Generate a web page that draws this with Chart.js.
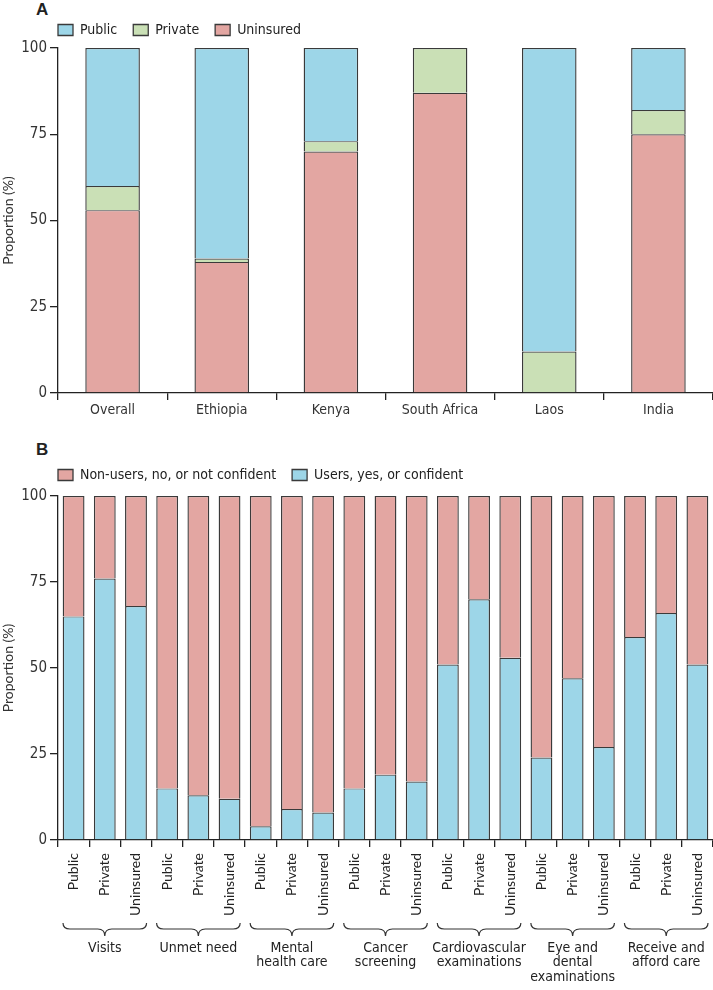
<!DOCTYPE html>
<html>
<head>
<meta charset="utf-8">
<script src="https://cdn.jsdelivr.net/npm/chart.js@4.4.1/dist/chart.umd.min.js"></script>
<style>
body { margin: 0; background: #fff; }
#wrap { position: relative; width: 713px; height: 990px; }
.panel-label { position: absolute; left: 36px; font: bold 17px "Liberation Sans", Arial, sans-serif; color: #222; }
#boxA { position: absolute; left: 0; top: 0; width: 713px; height: 430px; }
#boxB { position: absolute; left: 0; top: 430px; width: 713px; height: 560px; }
</style>
</head>
<body>
<div id="wrap">
  <div class="panel-label" style="top:0px">A</div>
  <div class="panel-label" style="top:440px">B</div>
  <div id="boxA"><canvas id="chartA"></canvas></div>
  <div id="boxB"><canvas id="chartB"></canvas></div>
</div>
<script>
// panel A: insurance type by country (%)
var countries = ['Overall', 'Ethiopia', 'Kenya', 'South Africa', 'Laos', 'India'];
var publicA = [40, 61, 27, 0, 88, 18];
var privateA = [7, 1, 3, 13, 12, 7];
var uninsuredA = [53, 38, 70, 87, 0, 75];

// panel B: outcome by insurance type (%)
var insuranceLabels = [
    'Public', 'Private', 'Uninsured', 'Public', 'Private', 'Uninsured',
    'Public', 'Private', 'Uninsured', 'Public', 'Private', 'Uninsured',
    'Public', 'Private', 'Uninsured', 'Public', 'Private', 'Uninsured',
    'Public', 'Private', 'Uninsured'
];
var groupNames = [
    ['Visits'], ['Unmet need'], ['Mental', 'health care'], ['Cancer', 'screening'],
    ['Cardiovascular', 'examinations'], ['Eye and', 'dental', 'examinations'],
    ['Receive and', 'afford care']
];
var usersB = [65, 76, 68, 15, 13, 12, 4, 9, 8, 15, 19, 17, 51, 70, 53, 24, 47, 27, 59, 66, 51];
var nonUsersB = [35, 24, 32, 85, 87, 88, 96, 91, 92, 85, 81, 83, 49, 30, 47, 76, 53, 73, 41, 34, 49];

var yTicks = [0, 25, 50, 75, 100];

var BLUE = '#9dd6e8';
var GREEN = '#cae0b6';
var PINK = '#e3a6a2';
var EDGE = '#3a3a3a';
var AXIS = '#222';

var narrow = '"DejaVu Sans Condensed", "Liberation Sans Narrow", sans-serif';
var humanist = 'Lato, "Open Sans", sans-serif';

// bar segment border: no bottom so joins stay thin
var segBorder = { top: 1.2, left: 1.4, right: 1.4, bottom: 0 };

function barSet(label, data, color) {
    return {
        label: label,
        data: data,
        backgroundColor: color,
        borderColor: EDGE,
        borderWidth: segBorder,
        borderSkipped: false,
        inflateAmount: 0
    };
}

function legendLabels(chart) {
    var items = Chart.defaults.plugins.legend.labels.generateLabels(chart);
    items.forEach(function (it) { it.lineWidth = 1.3; it.strokeStyle = EDGE; });
    return items;
}

// fix legend height so the plot area starts where it does in the figure
function legendSizer(height, shift) {
    return {
        id: 'legendSizer',
        beforeInit: function (chart) {
            var fit = chart.legend.fit;
            chart.legend.fit = function () {
                fit.call(chart.legend);
                this.height = height;
            };
        },
        beforeDraw: function (chart) {
            chart.legend.left = shift;
        }
    };
}

function xFit(h) {
    return function (scale) {
        scale.height = h;
        scale.paddingLeft = 0;
        scale.paddingRight = 0;
    };
}

function yScale() {
    return {
        stacked: true,
        min: 0,
        max: 100,
        afterFit: function (scale) { scale.width = 58; },
        afterBuildTicks: function (scale) {
            scale.ticks = yTicks.map(function (v) { return { value: v }; });
        },
        title: {
            display: true,
            text: 'Proportion (%)',
            color: '#333',
            font: { family: humanist, size: 14 },
            padding: { top: 0, bottom: 0 }
        },
        ticks: { color: '#333', padding: 3, font: { family: narrow, size: 15 } },
        grid: { drawOnChartArea: false, drawTicks: true, tickLength: 8, color: AXIS, lineWidth: 1.3 },
        border: { display: true, color: AXIS, width: 1.3 }
    };
}

var chartA = new Chart(document.getElementById('chartA'), {
    type: 'bar',
    data: {
        labels: countries,
        datasets: [
            barSet('Uninsured', uninsuredA, PINK),
            barSet('Private', privateA, GREEN),
            barSet('Public', publicA, BLUE)
        ]
    },
    options: {
        responsive: true,
        maintainAspectRatio: false,
        animation: false,
        layout: { padding: { top: 7, left: 0, right: 0, bottom: 0 } },
        datasets: { bar: { categoryPercentage: 1, barPercentage: 0.5 } },
        scales: {
            x: {
                stacked: true,
                afterFit: xFit(37),
                ticks: { color: '#333', padding: 2, font: { family: narrow, size: 14 } },
                grid: { offset: true, drawOnChartArea: false, drawTicks: true, tickLength: 7, color: AXIS, lineWidth: 1.3 },
                border: { display: true, color: AXIS, width: 1.3 }
            },
            y: yScale()
        },
        plugins: {
            legend: {
                reverse: true,
                align: 'start',
                labels: {
                    boxWidth: 15,
                    boxHeight: 11,
                    padding: 16,
                    color: '#222',
                    font: { family: narrow, size: 14 },
                    generateLabels: legendLabels
                }
            },
            tooltip: { enabled: false }
        }
    },
    plugins: [legendSizer(41, 42)]
});

// braces and group names under panel B
var bracePlugin = {
    id: 'braces',
    afterDraw: function (chart) {
        var ctx = chart.ctx;
        var x = chart.scales.x;
        var base = chart.chartArea.bottom;
        var step = (x.right - x.left) / insuranceLabels.length;
        var top = base + 83, mid = base + 89, bot = base + 96, r = 7;
        ctx.save();
        ctx.strokeStyle = '#333';
        ctx.lineWidth = 1.2;
        ctx.fillStyle = '#222';
        ctx.font = '14px ' + narrow;
        ctx.textAlign = 'center';
        ctx.textBaseline = 'middle';
        groupNames.forEach(function (lines, g) {
            var x0 = x.left + g * 3 * step + 5;
            var x1 = x.left + (g + 1) * 3 * step - 5;
            var xm = (x0 + x1) / 2;
            ctx.beginPath();
            ctx.moveTo(x0, top);
            ctx.quadraticCurveTo(x0, mid, x0 + r, mid);
            ctx.lineTo(xm - r, mid);
            ctx.quadraticCurveTo(xm, mid, xm, bot);
            ctx.quadraticCurveTo(xm, mid, xm + r, mid);
            ctx.lineTo(x1 - r, mid);
            ctx.quadraticCurveTo(x1, mid, x1, top);
            ctx.stroke();
            lines.forEach(function (line, i) {
                ctx.fillText(line, xm, base + 108 + i * 14.5);
            });
        });
        ctx.restore();
    }
};

var chartB = new Chart(document.getElementById('chartB'), {
    type: 'bar',
    data: {
        labels: insuranceLabels,
        datasets: [
            barSet('Users, yes, or confident', usersB, BLUE),
            barSet('Non-users, no, or not confident', nonUsersB, PINK)
        ]
    },
    options: {
        responsive: true,
        maintainAspectRatio: false,
        animation: false,
        layout: { padding: { top: 22, left: 0, right: 0, bottom: 0 } },
        datasets: { bar: { categoryPercentage: 1, barPercentage: 0.7 } },
        scales: {
            x: {
                stacked: true,
                afterFit: xFit(150),
                ticks: {
                    color: '#222',
                    padding: 6,
                    autoSkip: false,
                    minRotation: 90,
                    maxRotation: 90,
                    font: { family: humanist, size: 14 }
                },
                grid: { offset: true, drawOnChartArea: false, drawTicks: true, tickLength: 7, color: AXIS, lineWidth: 1.3 },
                border: { display: true, color: AXIS, width: 1.3 }
            },
            y: yScale()
        },
        plugins: {
            legend: {
                reverse: true,
                align: 'start',
                labels: {
                    boxWidth: 15,
                    boxHeight: 11,
                    padding: 16,
                    color: '#222',
                    font: { family: narrow, size: 14 },
                    generateLabels: legendLabels
                }
            },
            tooltip: { enabled: false }
        }
    },
    plugins: [legendSizer(44, 42), bracePlugin]
});
</script>
</body>
</html>
